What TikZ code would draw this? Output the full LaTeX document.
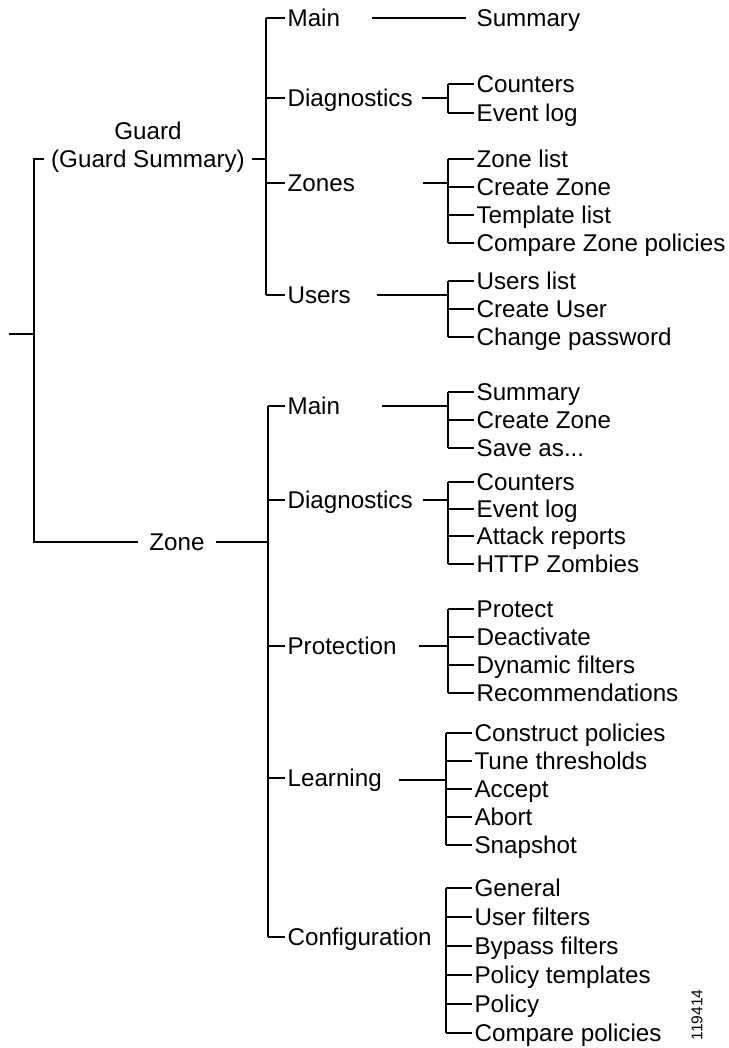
\documentclass[tikz,border=0pt]{standalone}
\usepackage{fontspec}
\setmainfont{Liberation Sans}
\begin{document}
\begin{tikzpicture}[x=0.5pt,y=-0.5pt,line width=0.6pt,
  lbl/.style={inner xsep=1pt,inner ysep=0pt,text height=8.6pt,text depth=0pt,font=\fontsize{12.1}{14}\selectfont},
  item/.style={lbl,anchor=west},
  parent/.style={lbl,anchor=center,inner xsep=3.5pt}]
\useasboundingbox (0,0) rectangle (728,1048);

% root
\coordinate (rootS) at (9,334);
\coordinate (rootJ) at (34,334);

% top-level labels
\node[lbl,anchor=center] (guardtitle) at (148,131) {Guard};
\node[parent] (guard) at (148,159) {(Guard Summary)};
\node[parent,inner xsep=5.5pt] (zone) at (177,542) {Zone};

\draw (rootS) -- (rootJ);
\draw (guard.west) -| (rootJ) |- (zone.west);

% ---------------- Guard ----------------
\coordinate (gJ) at (266,159);
\node[item] (gmain) at (285,18) {Main};
\node[item] (gdiag) at (285,98) {Diagnostics};
\node[item] (gzones) at (285,183) {Zones};
\node[item] (gusers) at (285,295) {Users};
\draw (guard.east) -- (gJ);
\draw (gmain.west -| gJ) -- (gusers.west -| gJ);
\foreach \n in {gmain,gdiag,gzones,gusers} \draw (\n.west -| gJ) -- (\n.west);

% Guard / Main
\node[item] (gsum) at (474,18) {Summary};
\coordinate (gmS) at (372,18);
\draw (gmS) -- ([xshift=-4pt]gsum.west);

% Guard / Diagnostics
\node[item] (gcount) at (474,84) {Counters};
\node[item] (gevent) at (474,113) {Event log};
\coordinate (gdS) at (422,98);
\coordinate (gdJ) at (448,98);
\draw (gdS) -- (gdJ);
\draw (gcount.west -| gdJ) -- (gevent.west -| gdJ);
\foreach \n in {gcount,gevent} \draw (\n.west -| gdJ) -- (\n.west);

% Guard / Zones
\node[item] (gzl) at (474,159) {Zone list};
\node[item] (gcz) at (474,187) {Create Zone};
\node[item] (gtl) at (474,215) {Template list};
\node[item] (gczp) at (474,243) {Compare Zone policies};
\coordinate (gzS) at (423,183);
\coordinate (gzJ) at (448,183);
\draw (gzS) -- (gzJ);
\draw (gzl.west -| gzJ) -- (gczp.west -| gzJ);
\foreach \n in {gzl,gcz,gtl,gczp} \draw (\n.west -| gzJ) -- (\n.west);

% Guard / Users
\node[item] (gul) at (474,281) {Users list};
\node[item] (gcu) at (474,309) {Create User};
\node[item] (gcp) at (474,337) {Change password};
\coordinate (guS) at (377,295);
\coordinate (guJ) at (448,295);
\draw (guS) -- (guJ);
\draw (gul.west -| guJ) -- (gcp.west -| guJ);
\foreach \n in {gul,gcu,gcp} \draw (\n.west -| guJ) -- (\n.west);

% ---------------- Zone ----------------
\coordinate (zJ) at (268,542);
\node[item] (zmain) at (285,406) {Main};
\node[item] (zdiag) at (285,500) {Diagnostics};
\node[item] (zprot) at (285,646) {Protection};
\node[item] (zlearn) at (285,778) {Learning};
\node[item] (zconf) at (285,937) {Configuration};
\draw (zone.east) -- (zJ);
\draw (zmain.west -| zJ) -- (zconf.west -| zJ);
\foreach \n in {zmain,zdiag,zprot,zlearn,zconf} \draw (\n.west -| zJ) -- (\n.west);

% Zone / Main
\node[item] (zsum) at (474,392) {Summary};
\node[item] (zcz) at (474,420) {Create Zone};
\node[item] (zsave) at (474,448) {Save as...};
\coordinate (zmS) at (382,406);
\coordinate (zmJ) at (448,406);
\draw (zmS) -- (zmJ);
\draw (zsum.west -| zmJ) -- (zsave.west -| zmJ);
\foreach \n in {zsum,zcz,zsave} \draw (\n.west -| zmJ) -- (\n.west);

% Zone / Diagnostics
\node[item] (zcount) at (474,482) {Counters};
\node[item] (zevent) at (474,509) {Event log};
\node[item] (zattack) at (474,536) {Attack reports};
\node[item] (zhttp) at (474,564) {HTTP Zombies};
\coordinate (zdS) at (423,500);
\coordinate (zdJ) at (448,500);
\draw (zdS) -- (zdJ);
\draw (zcount.west -| zdJ) -- (zhttp.west -| zdJ);
\foreach \n in {zcount,zevent,zattack,zhttp} \draw (\n.west -| zdJ) -- (\n.west);

% Zone / Protection
\node[item] (zprotect) at (474,609) {Protect};
\node[item] (zdeact) at (474,637) {Deactivate};
\node[item] (zdyn) at (474,665) {Dynamic filters};
\node[item] (zrec) at (474,693) {Recommendations};
\coordinate (zpS) at (419,646);
\coordinate (zpJ) at (448,646);
\draw (zpS) -- (zpJ);
\draw (zprotect.west -| zpJ) -- (zrec.west -| zpJ);
\foreach \n in {zprotect,zdeact,zdyn,zrec} \draw (\n.west -| zpJ) -- (\n.west);

% Zone / Learning
\node[item] (zcons) at (472,733) {Construct policies};
\node[item] (ztune) at (472,761) {Tune thresholds};
\node[item] (zaccept) at (472,789) {Accept};
\node[item] (zabort) at (472,817) {Abort};
\node[item] (zsnap) at (472,845) {Snapshot};
\coordinate (zlS) at (399,780);
\coordinate (zlJ) at (446,780);
\draw (zlS) -- (zlJ);
\draw (zcons.west -| zlJ) -- (zsnap.west -| zlJ);
\foreach \n in {zcons,ztune,zaccept,zabort,zsnap} \draw (\n.west -| zlJ) -- (\n.west);

% Zone / Configuration
\node[item] (zgen) at (472,888) {General};
\node[item] (zuf) at (472,917) {User filters};
\node[item] (zbf) at (472,946) {Bypass filters};
\node[item] (zpt) at (472,975) {Policy templates};
\node[item] (zpol) at (472,1004) {Policy};
\node[item] (zcmp) at (472,1033) {Compare policies};
\coordinate (zcJ) at (446,937);
\draw (zgen.west -| zcJ) -- (zcmp.west -| zcJ);
\foreach \n in {zgen,zuf,zbf,zpt,zpol,zcmp} \draw (\n.west -| zcJ) -- (\n.west);

% figure number
\node[rotate=90,inner sep=0pt,font=\fontsize{7.8}{9}\selectfont] (fignum) at (697,1015) {119414};
\end{tikzpicture}
\end{document}
